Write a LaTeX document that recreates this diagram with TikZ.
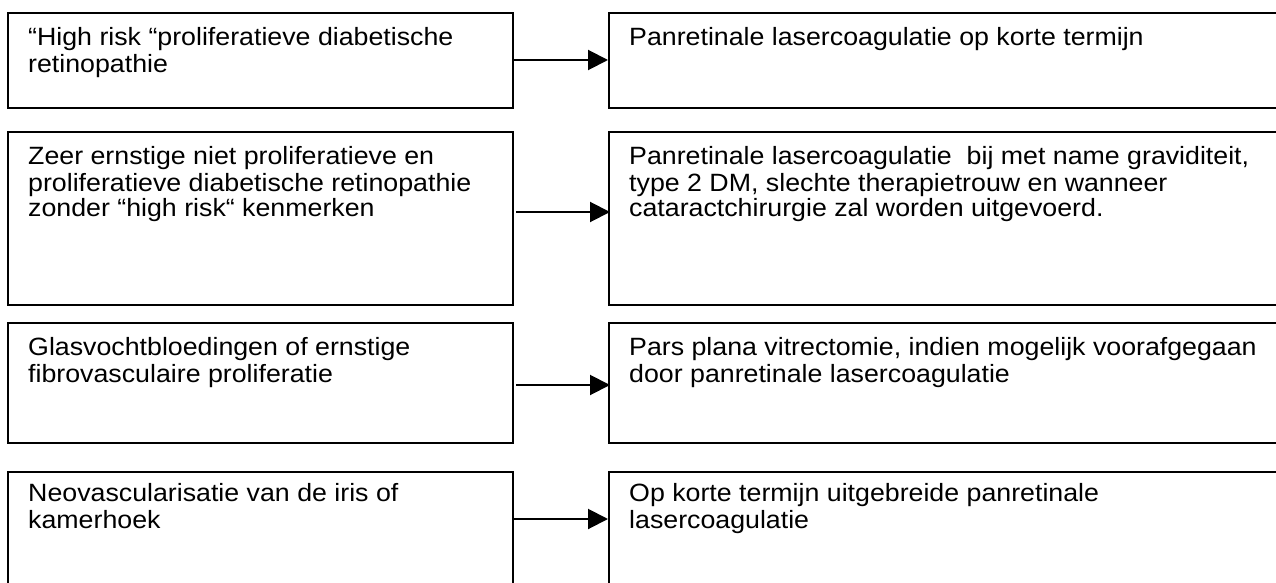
\documentclass[tikz,border=0pt]{standalone}
\usepackage{fontspec}
\setmainfont[FakeStretch=1.07]{Liberation Sans}
\usetikzlibrary{arrows.meta}
\begin{document}
\begin{tikzpicture}[x=1pt,y=-1pt,
  boxL/.style={draw,line width=2pt,inner sep=0pt,anchor=north west,minimum width=505pt},
  boxR/.style={draw,line width=2pt,inner sep=0pt,anchor=north west,minimum width=700pt},
  txt/.style={inner sep=0pt,anchor=north west,align=left,font=\fontsize{25}{25.5}\selectfont},
  arr/.style={line width=2pt,-{Triangle[length=20pt,width=20pt]}}]
\useasboundingbox (0,0) rectangle (1276,583);
\clip (0,0) rectangle (1276,583);
% row 1
\node[boxL,minimum height=95pt] (L1) at (7,12) {};
\node[boxR,minimum height=95pt] (R1) at (608,12) {};
\node[txt] (TL1) at ([shift={(21,15)}]L1.north west) {\strut “High risk “proliferatieve diabetische\\retinopathie};
\node[txt] (TR1) at ([shift={(21,15)}]R1.north west) {\strut Panretinale lasercoagulatie op korte termijn};
\draw[arr] ([shift={(0,48)}]L1.north east) -- ([shift={(0,48)}]R1.north west);
% row 2
\node[boxL,minimum height=173pt] (L2) at (7,131) {};
\node[boxR,minimum height=173pt] (R2) at (608,131) {};
\node[txt] (TL2) at ([shift={(21,15)}]L2.north west) {\strut Zeer ernstige niet proliferatieve en\\proliferatieve diabetische retinopathie\\zonder “high risk“ kenmerken};
\node[txt] (TR2) at ([shift={(21,15)}]R2.north west) {\strut Panretinale lasercoagulatie\ \ bij met name graviditeit,\\type 2 DM, slechte therapietrouw en wanneer\\cataractchirurgie zal worden uitgevoerd.};
\draw[arr] ([shift={(2,81)}]L2.north east) -- ([shift={(2,81)}]R2.north west);
% row 3
\node[boxL,minimum height=120pt] (L3) at (7,322) {};
\node[boxR,minimum height=120pt] (R3) at (608,322) {};
\node[txt] (TL3) at ([shift={(21,15)}]L3.north west) {\strut Glasvochtbloedingen of ernstige\\fibrovasculaire proliferatie};
\node[txt] (TR3) at ([shift={(21,15)}]R3.north west) {\strut Pars plana vitrectomie, indien mogelijk voorafgegaan\\door panretinale lasercoagulatie};
\draw[arr] ([shift={(2,63)}]L3.north east) -- ([shift={(2,63)}]R3.north west);
% row 4
\node[boxL,minimum height=125pt] (L4) at (7,471) {};
\node[boxR,minimum height=125pt] (R4) at (608,471) {};
\node[txt] (TL4) at ([shift={(21,12)}]L4.north west) {\strut Neovascularisatie van de iris of\\kamerhoek};
\node[txt] (TR4) at ([shift={(21,12)}]R4.north west) {\strut Op korte termijn uitgebreide panretinale\\lasercoagulatie};
\draw[arr] ([shift={(0,48)}]L4.north east) -- ([shift={(0,48)}]R4.north west);
\end{tikzpicture}
\end{document}
